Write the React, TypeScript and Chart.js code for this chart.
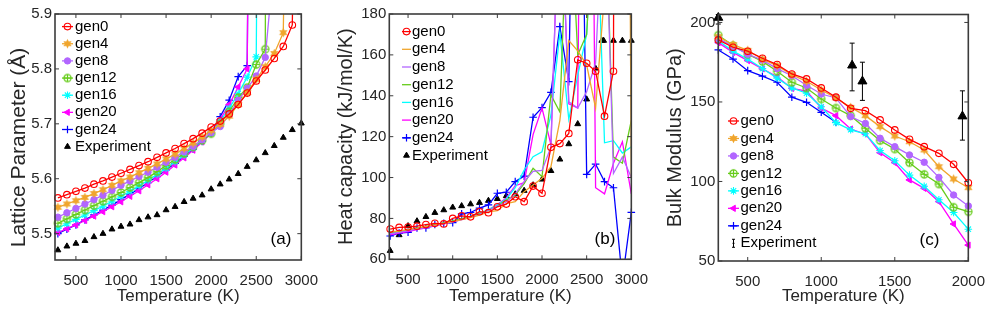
import React, { useEffect, useRef } from 'react';
import { Chart, registerables } from 'chart.js';
import { drawPoint } from 'chart.js/helpers';

Chart.register(...registerables);

const FONT = "'Liberation Sans', Arial, Helvetica, sans-serif";
const INK = '#262626';
const FRAME = '#3c3c3c';
const H = 314;

// ---------- shared ----------
const GEN_LABELS = ['gen0', 'gen4', 'gen8', 'gen12', 'gen16', 'gen20', 'gen24'];
const GEN_COLORS = ['#ff0000', '#f0a52c', '#b266ff', '#66cc1a', '#00ffff', '#ff00ff', '#0000ff'];

// temperatures (K)
const TEMP_AB = [300, 400, 500, 600, 700, 800, 900, 1000, 1100, 1200, 1300, 1400, 1500, 1600, 1700, 1800, 1900, 2000,
  2100, 2200, 2300, 2400, 2500, 2600, 2700, 2800, 2900, 3000];
const TEMP_C = [300, 400, 500, 600, 700, 800, 900, 1000, 1100, 1200, 1300, 1400, 1500, 1600, 1700, 1800, 1900, 2000];

// ---------- (a) lattice parameter (Å) ----------
const LAT_GEN0 = [5.565, 5.571, 5.577, 5.583, 5.590, 5.596, 5.603, 5.610, 5.617, 5.624, 5.631, 5.639, 5.647, 5.655, 5.664, 5.673, 5.683, 5.694, 5.705, 5.718, 5.735, 5.756, 5.778, 5.798, 5.819, 5.841, 5.880, 7.0];
const LAT_GEN4 = [5.548, 5.554, 5.560, 5.566, 5.573, 5.580, 5.588, 5.596, 5.603, 5.611, 5.619, 5.627, 5.636, 5.645, 5.655, 5.665, 5.676, 5.688, 5.699, 5.714, 5.735, 5.757, 5.781, 5.804, 5.828, 5.866, 7.0];
const LAT_GEN8 = [5.530, 5.538, 5.546, 5.554, 5.562, 5.570, 5.579, 5.588, 5.596, 5.604, 5.612, 5.621, 5.630, 5.639, 5.649, 5.659, 5.671, 5.684, 5.695, 5.716, 5.743, 5.765, 5.787, 5.821, 6.0];
const LAT_GEN12 = [5.519, 5.527, 5.535, 5.543, 5.551, 5.559, 5.567, 5.575, 5.584, 5.593, 5.602, 5.613, 5.624, 5.635, 5.646, 5.658, 5.670, 5.682, 5.700, 5.722, 5.748, 5.766, 5.808, 5.836, 10];
const LAT_GEN16 = [5.510, 5.518, 5.526, 5.534, 5.542, 5.550, 5.559, 5.568, 5.577, 5.587, 5.597, 5.608, 5.619, 5.631, 5.643, 5.656, 5.669, 5.683, 5.705, 5.728, 5.755, 5.785, 5.822, 8];
const LAT_GEN20 = [5.502, 5.509, 5.516, 5.524, 5.532, 5.540, 5.549, 5.558, 5.568, 5.578, 5.589, 5.600, 5.612, 5.625, 5.638, 5.652, 5.667, 5.683, 5.708, 5.735, 5.767, 5.800, 8];
const LAT_GEN24 = [5.500, 5.508, 5.516, 5.525, 5.534, 5.543, 5.552, 5.562, 5.572, 5.582, 5.593, 5.604, 5.616, 5.628, 5.641, 5.654, 5.668, 5.683, 5.713, 5.743, 5.786, 5.806, 8];
const LAT_EXP = [5.470, 5.477, 5.482, 5.487, 5.494, 5.500, 5.508, 5.513, 5.517, 5.525, 5.530, 5.534, 5.543, 5.549, 5.558, 5.564, 5.570, 5.581, 5.590, 5.599, 5.609, 5.622, 5.634, 5.647, 5.660, 5.675, 5.689, 5.701];
const X_TICKS_A = [500, 1000, 1500, 2000, 2500, 3000];
const Y_TICKS_A = [5.5, 5.6, 5.7, 5.8, 5.9];

// ---------- (b) heat capacity (kJ/mol/K) ----------
const CP_GEN0 = [74.8, 75.6, 75.8, 76.2, 77.0, 77.6, 77.3, 80.0, 81.2, 80.8, 83.3, 82.8, 85.7, 87.0, 90.6, 88.2, 95.8, 92.3, 114.8, 116.6, 121.6, 157.6, 155.9, 152.0, 130.0, 152.0, 2000];
const CP_GEN4 = [73.5, 73.8, 74.6, 75.3, 76.1, 76.8, 77.6, 78.4, 79.4, 80.4, 81.6, 83.2, 83.8, 87.3, 88.2, 93.1, 96.3, 99.6, 105.3, 128, 167, 162, 155, 134, 190, 800, 800, 100];
const CP_GEN8 = [72.5, 73.2, 74.0, 74.8, 75.6, 76.5, 77.4, 78.3, 79.4, 80.6, 82.0, 84.0, 86.0, 88.0, 92.0, 98.0, 103.0, 103.5, 115, 250, 137, 134, 142, 156, 250, 102, 110, 100];
const CP_GEN12 = [73.0, 73.6, 74.4, 75.2, 76.0, 76.9, 77.8, 78.8, 79.9, 81.0, 82.4, 84.0, 86.0, 89.0, 91.5, 97.0, 104.5, 100.4, 140.4, 132, 250, 160, 170, 250, 250, 110, 107, 128];
const CP_GEN16 = [72.8, 73.4, 74.2, 75.0, 75.9, 76.8, 77.7, 78.7, 79.8, 81.0, 82.5, 84.3, 86.5, 89.5, 95.0, 103.7, 110.2, 112.6, 130.6, 170.6, 128.5, 150, 170, 250, 117, 118, 112, 115];
const CP_GEN20 = [72.0, 72.8, 73.6, 74.5, 75.4, 76.3, 77.3, 78.3, 79.4, 80.6, 82.2, 84.2, 86.8, 90.0, 96.0, 97.5, 121.0, 134.0, 116.0, 250, 136, 134, 600, 95, 92, 107, 117.5, 92];
const CP_GEN24 = [71.4, 72.8, 73.2, 75.3, 75.3, 77.0, 77.6, 77.9, 82.2, 82.9, 85.0, 86.6, 92.3, 92.8, 98.0, 100.7, 129.5, 134.2, 141.7, 173.8, 146.9, 400, 101.5, 106.6, 98.0, 95.0, 50, 83];
const CP_EXP_T = [300, 400, 500, 600, 700, 800, 900, 1000, 1100, 1200, 1300, 1400, 1500, 1600, 1700, 1800, 1900, 2000, 2100, 2200, 2300, 2400, 2500, 2600, 2670, 2690, 2800, 2900, 3000];
const CP_EXP = [64.2, 71.9, 76.3, 78.7, 80.8, 82.8, 84.1, 85.4, 86.1, 87.0, 87.7, 88.7, 89.6, 91.0, 91.9, 93.6, 96.3, 99.1, 103.3, 108.9, 116.4, 126.2, 138.3, 153.4, 167, 167, 167, 167, 167];
const X_TICKS_B = [500, 1000, 1500, 2000, 2500, 3000];
const Y_TICKS_B = [60, 80, 100, 120, 140, 160, 180];

// ---------- (c) bulk modulus (GPa) ----------
const BM_GEN0 = [189.0, 184.4, 181.9, 177.5, 173.5, 167.6, 164.5, 158.8, 153.0, 146.0, 144.5, 138.7, 132.4, 126.5, 121.9, 117.7, 110.8, 99.2];
const BM_GEN4 = [191.0, 186.1, 182.5, 176.9, 172.8, 167.1, 163.0, 157.5, 152.5, 146.6, 141.4, 134.5, 128.6, 125.0, 119.8, 109.3, 101.6, 96.1];
const BM_GEN8 = [190.0, 185.0, 180.0, 176.3, 171.0, 166.5, 160.5, 155.0, 152.5, 140.8, 136.5, 127.2, 121.9, 116.7, 112.1, 102.6, 91.5, 84.6];
const BM_GEN12 = [192.0, 185.5, 180.0, 175.5, 169.3, 162.4, 158.8, 151.9, 146.2, 141.4, 133.5, 125.7, 120.4, 111.8, 104.5, 98.4, 83.8, 81.0];
const BM_GEN16 = [188.5, 182.0, 177.0, 171.0, 165.0, 158.8, 155.5, 147.0, 137.0, 132.5, 130.0, 119.5, 113.0, 104.0, 97.0, 88.5, 80.5, 70.0];
const BM_GEN20 = [187.3, 181.2, 176.0, 170.8, 165.9, 158.5, 156.8, 146.2, 141.4, 133.0, 129.9, 118.1, 111.8, 101.0, 95.7, 87.3, 73.3, 60.0];
const BM_GEN24 = [182.7, 177.0, 169.7, 166.2, 162.4, 153.0, 149.8, 143.5, 137.2];
const BM_EXP_T = [300, 1210, 1280, 1960];
const BM_EXP = [203, 173, 163, 141];
const BM_EXP_LO = [199, 157, 151, 126];
const BM_EXP_HI = [205, 187, 175, 157];
const X_TICKS_C = [500, 1000, 1500, 2000];
const Y_TICKS_C = [50, 100, 150, 200];

// ---------- marker images ----------
function makeHexagram(color: string) {
  const c = document.createElement('canvas');
  c.width = 11; c.height = 11;
  const g = c.getContext('2d')!;
  g.fillStyle = color;
  g.beginPath();
  for (let k = 0; k < 12; k++) {
    const r = k % 2 === 0 ? 4.8 : 2.5;
    const a = -Math.PI / 2 + (k * Math.PI) / 6;
    const px = 5.5 + r * Math.cos(a);
    const py = 5.5 + r * Math.sin(a);
    if (k === 0) g.moveTo(px, py); else g.lineTo(px, py);
  }
  g.closePath();
  g.fill();
  return c;
}
function makeCirclePlus(color: string) {
  const c = document.createElement('canvas');
  c.width = 11; c.height = 11;
  const g = c.getContext('2d')!;
  g.strokeStyle = color;
  g.lineWidth = 1.2;
  g.beginPath();
  g.arc(5.5, 5.5, 3.6, 0, Math.PI * 2);
  g.moveTo(5.5, 1.6); g.lineTo(5.5, 9.4);
  g.moveTo(1.6, 5.5); g.lineTo(9.4, 5.5);
  g.stroke();
  return c;
}

type Mk = { style: any; r: number; fill: string; rot?: number; bw?: number } | null;

function series(label: string, temps: number[], vals: number[], color: string, mk: Mk, extra: any = {}) {
  return {
    label,
    data: vals.map((v, i) => ({ x: temps[i], y: v })),
    borderColor: color,
    backgroundColor: color,
    borderWidth: 1.3,
    tension: 0,
    pointStyle: mk ? mk.style : 'circle',
    pointRadius: mk ? mk.r : 0,
    pointRotation: mk && mk.rot ? mk.rot : 0,
    pointBackgroundColor: mk ? mk.fill : color,
    pointBorderColor: color,
    pointBorderWidth: mk && mk.bw !== undefined ? mk.bw : 1.1,
    clip: { left: 6, right: 6, top: 0, bottom: 0 },
    ...extra,
  };
}

function genMarkers(): Mk[] {
  return [
    { style: 'circle', r: 3.3, fill: 'rgba(0,0,0,0)', bw: 1.1 },
    { style: makeHexagram(GEN_COLORS[1]), r: 4, fill: GEN_COLORS[1] },
    { style: 'circle', r: 3.2, fill: GEN_COLORS[2], bw: 1 },
    { style: makeCirclePlus(GEN_COLORS[3]), r: 4, fill: 'rgba(0,0,0,0)' },
    { style: 'star', r: 3.8, fill: GEN_COLORS[4], bw: 1.1 },
    { style: 'triangle', r: 3.6, fill: GEN_COLORS[5], rot: -90, bw: 1 },
    { style: 'cross', r: 3.8, fill: GEN_COLORS[6], bw: 1.2 },
  ];
}

type Panel = {
  key: string; left: number; w: number;
  ca: { l: number; r: number; t: number; b: number };
  xMin: number; xMax: number; yMin: number; yMax: number;
  xTicks: number[]; yTicks: number[]; yFmt: (v: number) => string;
  yTitle: string; yTitlePad: number; yTitleSize: number;
  leg: { x0: number; x1: number; tx: number; y0: number; step: number };
  tag: { text: string; x: number; y: number };
  err?: { x: number[]; lo: number[]; hi: number[] };
  datasets: any[];
};

function makeDecor(p: Panel) {
  return {
    id: 'decor_' + p.key,
    afterDatasetsDraw(chart: any) {
      const { ctx, chartArea: ca, scales } = chart;
      const xs = scales.x, ys = scales.y;
      ctx.save();
      // error bars
      if (p.err) {
        ctx.strokeStyle = '#000';
        ctx.lineWidth = 1;
        ctx.beginPath();
        p.err.x.forEach((xv, i) => {
          const x = xs.getPixelForValue(xv);
          const y1 = ys.getPixelForValue(p.err!.lo[i]);
          const y2 = ys.getPixelForValue(p.err!.hi[i]);
          ctx.moveTo(x, y1); ctx.lineTo(x, y2);
          ctx.moveTo(x - 2.5, y1); ctx.lineTo(x + 2.5, y1);
          ctx.moveTo(x - 2.5, y2); ctx.lineTo(x + 2.5, y2);
        });
        ctx.stroke();
      }
      // frame
      ctx.strokeStyle = FRAME;
      ctx.lineWidth = 1.6;
      ctx.strokeRect(ca.left, ca.top, ca.right - ca.left, ca.bottom - ca.top);
      // inward ticks on all four sides
      const TL = 4;
      ctx.lineWidth = 1;
      ctx.beginPath();
      xs.ticks.forEach((t: any) => {
        const x = xs.getPixelForValue(t.value);
        ctx.moveTo(x, ca.bottom); ctx.lineTo(x, ca.bottom - TL);
        ctx.moveTo(x, ca.top); ctx.lineTo(x, ca.top + TL);
      });
      ys.ticks.forEach((t: any) => {
        const y = ys.getPixelForValue(t.value);
        ctx.moveTo(ca.left, y); ctx.lineTo(ca.left + TL, y);
        ctx.moveTo(ca.right, y); ctx.lineTo(ca.right - TL, y);
      });
      ctx.stroke();
      // legend
      const items = chart.data.datasets;
      const cx = (p.leg.x0 + p.leg.x1) / 2;
      ctx.font = `15px ${FONT}`;
      ctx.textBaseline = 'middle';
      ctx.textAlign = 'left';
      items.forEach((d: any, i: number) => {
        const y = p.leg.y0 + i * p.leg.step;
        if (d.showLine !== false) {
          ctx.strokeStyle = d.borderColor;
          ctx.lineWidth = d.borderWidth;
          ctx.beginPath();
          ctx.moveTo(p.leg.x0, y); ctx.lineTo(p.leg.x1, y);
          ctx.stroke();
        }
        if (d.legendIcon === 'errbar') {
          ctx.strokeStyle = '#000';
          ctx.lineWidth = 1;
          ctx.beginPath();
          ctx.moveTo(cx, y - 4); ctx.lineTo(cx, y + 4);
          ctx.moveTo(cx - 1.5, y - 4); ctx.lineTo(cx + 1.5, y - 4);
          ctx.moveTo(cx - 1.5, y + 4); ctx.lineTo(cx + 1.5, y + 4);
          ctx.moveTo(cx - 1, y); ctx.lineTo(cx + 1, y);
          ctx.stroke();
        } else if (d.pointRadius > 0) {
          ctx.fillStyle = d.pointBackgroundColor;
          ctx.strokeStyle = d.pointBorderColor;
          ctx.lineWidth = d.pointBorderWidth;
          drawPoint(ctx, {
            pointStyle: d.pointStyle,
            rotation: d.pointRotation || 0,
            radius: d.legendRadius || d.pointRadius,
            borderWidth: d.pointBorderWidth,
          } as any, cx, y);
        }
        ctx.fillStyle = '#000';
        ctx.fillText(d.label, p.leg.tx, y);
      });
      // panel tag
      ctx.fillStyle = '#000';
      ctx.font = `17px ${FONT}`;
      ctx.textAlign = 'center';
      ctx.fillText(p.tag.text, p.tag.x, p.tag.y);
      ctx.restore();
    },
  };
}

function buildConfig(p: Panel): any {
  return {
    type: 'line',
    data: { datasets: p.datasets },
    options: {
      animation: false,
      responsive: false,
      maintainAspectRatio: false,
      events: [],
      layout: { padding: { left: 0, top: p.ca.t, right: p.w - p.ca.r, bottom: 0 } },
      plugins: { legend: { display: false }, tooltip: { enabled: false } },
      scales: {
        x: {
          type: 'linear', min: p.xMin, max: p.xMax,
          afterBuildTicks: (s: any) => { s.ticks = p.xTicks.map((v) => ({ value: v })); },
          afterFit: (s: any) => { s.height = H - p.ca.b; },
          grid: { display: false, drawTicks: false },
          border: { display: false },
          ticks: {
            color: INK, font: { size: 15, family: FONT }, padding: 12,
            maxRotation: 0, autoSkip: false, callback: (v: any) => String(v),
          },
          title: {
            display: true, text: 'Temperature (K)', color: INK,
            font: { size: 17, family: FONT }, padding: { top: 0, bottom: 7.5 },
          },
        },
        y: {
          type: 'linear', min: p.yMin, max: p.yMax,
          afterBuildTicks: (s: any) => { s.ticks = p.yTicks.map((v) => ({ value: v })); },
          afterFit: (s: any) => { s.width = p.ca.l; },
          grid: { display: false, drawTicks: false },
          border: { display: false },
          ticks: {
            color: INK, font: { size: 15, family: FONT }, padding: 3,
            autoSkip: false, callback: (v: any) => p.yFmt(Number(v)),
          },
          title: {
            display: true, text: p.yTitle, color: INK,
            font: { size: p.yTitleSize, family: FONT }, padding: { top: p.yTitlePad, bottom: 0 },
          },
        },
      },
    },
    plugins: [makeDecor(p)],
  };
}

function panels(): Panel[] {
  const mk = genMarkers();
  const latVals = [LAT_GEN0, LAT_GEN4, LAT_GEN8, LAT_GEN12, LAT_GEN16, LAT_GEN20, LAT_GEN24];
  const cpVals = [CP_GEN0, CP_GEN4, CP_GEN8, CP_GEN12, CP_GEN16, CP_GEN20, CP_GEN24];
  const bmVals = [BM_GEN0, BM_GEN4, BM_GEN8, BM_GEN12, BM_GEN16, BM_GEN20, BM_GEN24];
  const expA = series('Experiment', TEMP_AB, LAT_EXP, '#000', { style: 'triangle', r: 3.4, fill: '#000', bw: 1 }, { showLine: false });
  const expB = series('Experiment', CP_EXP_T, CP_EXP, '#000', { style: 'triangle', r: 3.4, fill: '#000', bw: 1 }, { showLine: false });
  const expC = series('Experiment', BM_EXP_T, BM_EXP, '#000', { style: 'triangle', r: 5.2, fill: '#000', bw: 1 }, {
    showLine: false, legendIcon: 'errbar', clip: { left: 8, right: 8, top: 8, bottom: 0 },
  });
  return [
    {
      key: 'a', left: 0, w: 330,
      ca: { l: 55, r: 312.3, t: 14, b: 260 },
      xMin: 268, xMax: 3000, yMin: 5.452, yMax: 5.9,
      xTicks: X_TICKS_A, yTicks: Y_TICKS_A, yFmt: (v) => v.toFixed(1),
      yTitle: 'Lattice Parameter (Å)\u2002\u2002', yTitlePad: 6.2, yTitleSize: 21,
      leg: { x0: 62, x1: 73, tx: 75, y0: 26.6, step: 17.15 },
      tag: { text: '(a)', x: 281, y: 239 },
      datasets: [...GEN_LABELS.map((l, i) => series(l, TEMP_AB, latVals[i], GEN_COLORS[i], mk[i])), expA],
    },
    {
      key: 'b', left: 330, w: 330,
      ca: { l: 59.3, r: 311.7, t: 14, b: 259.3 },
      xMin: 290, xMax: 3000, yMin: 60, yMax: 180,
      xTicks: X_TICKS_B, yTicks: Y_TICKS_B, yFmt: (v) => String(v),
      yTitle: 'Heat capacity (kJ/mol/K)', yTitlePad: 4.8, yTitleSize: 20,
      leg: { x0: 72, x1: 81, tx: 82, y0: 31.6, step: 17.7 },
      tag: { text: '(b)', x: 275, y: 239 },
      datasets: [...GEN_LABELS.map((l, i) =>
        series(l, TEMP_AB, cpVals[i], GEN_COLORS[i], i === 0 ? mk[0] : i === 6 ? mk[6] : null)), expB],
    },
    {
      key: 'c', left: 660, w: 337,
      ca: { l: 58.3, r: 309.3, t: 14.5, b: 261 },
      xMin: 300, xMax: 2000, yMin: 50, yMax: 205,
      xTicks: X_TICKS_C, yTicks: Y_TICKS_C, yFmt: (v) => String(v),
      yTitle: 'Bulk Modulus (GPa)', yTitlePad: 3.5, yTitleSize: 20,
      leg: { x0: 68, x1: 79, tx: 80.5, y0: 121, step: 17.47 },
      tag: { text: '(c)', x: 269.5, y: 240 },
      err: { x: BM_EXP_T, lo: BM_EXP_LO, hi: BM_EXP_HI },
      datasets: [...GEN_LABELS.map((l, i) => series(l, TEMP_C, bmVals[i], GEN_COLORS[i], mk[i])), expC],
    },
  ];
}

const PANEL_GEOM = [
  { left: 0, w: 330 },
  { left: 330, w: 330 },
  { left: 660, w: 337 },
];

function ChartPanel({ index }: { index: number }) {
  const ref = useRef<HTMLCanvasElement | null>(null);
  const p = PANEL_GEOM[index];
  useEffect(() => {
    const cfg = panels()[index];
    const chart = new Chart(ref.current!, buildConfig(cfg));
    return () => chart.destroy();
  }, [index]);
  return (
    <canvas
      ref={ref}
      width={p.w}
      height={H}
      style={{ position: 'absolute', left: p.left, top: 0, width: p.w, height: H, display: 'block' }}
    />
  );
}

export default function App() {
  return (
    <div style={{ position: 'absolute', left: 0, top: 0, width: 997, height: H, background: '#fff', fontFamily: FONT }}>
      <ChartPanel index={0} />
      <ChartPanel index={1} />
      <ChartPanel index={2} />
    </div>
  );
}
